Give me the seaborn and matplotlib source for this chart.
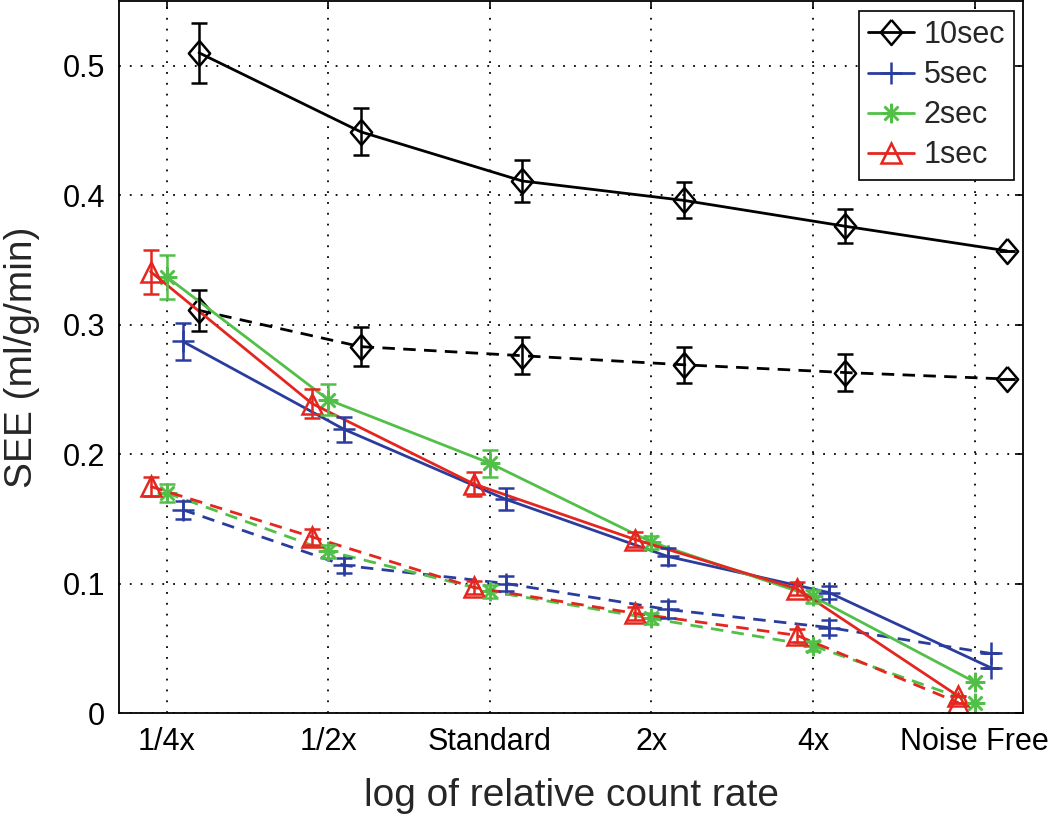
import numpy as np
import pandas as pd
import matplotlib
matplotlib.use("Agg")
import matplotlib.pyplot as plt
import seaborn as sns

# ---------------- data ----------------
categories = ['1/4x', '1/2x', 'Standard', '2x', '4x', 'Noise Free']
series_names = ['10sec', '5sec', '2sec', '1sec']

see_10s_solid = [0.510, 0.449, 0.411, 0.396, 0.376, 0.357]
err_10s_solid = [0.023, 0.018, 0.016, 0.014, 0.013, 0.0]
see_10s_dash = [0.311, 0.283, 0.276, 0.269, 0.263, 0.258]
err_10s_dash = [0.016, 0.015, 0.0145, 0.014, 0.014, 0.0]

see_5s_solid = [0.287, 0.219, 0.165, 0.121, 0.093, 0.035]
err_5s_solid = [0.014, 0.010, 0.0085, 0.0065, 0.005, 0.0]
see_5s_dash = [0.157, 0.114, 0.100, 0.080, 0.066, 0.046]
err_5s_dash = [0.007, 0.006, 0.006, 0.0065, 0.006, 0.0]

see_2s_solid = [0.337, 0.242, 0.193, 0.132, 0.090, 0.024]
err_2s_solid = [0.017, 0.012, 0.0105, 0.005, 0.005, 0.0]
see_2s_dash = [0.170, 0.125, 0.094, 0.073, 0.052, 0.008]
err_2s_dash = [0.007, 0.005, 0.005, 0.004, 0.004, 0.0]

see_1s_solid = [0.341, 0.239, 0.177, 0.134, 0.096, 0.013]
err_1s_solid = [0.017, 0.011, 0.009, 0.006, 0.005, 0.0]
see_1s_dash = [0.175, 0.136, 0.097, 0.077, 0.060, 0.008]
err_1s_dash = [0.007, 0.006, 0.005, 0.005, 0.005, 0.0]

y_ticks = [0, 0.1, 0.2, 0.3, 0.4, 0.5]
y_tick_labels = ['0', '0.1', '0.2', '0.3', '0.4', '0.5']

# ---------------- style ----------------
sns.set_style("white")
plt.rcParams['font.family'] = ['Liberation Sans', 'DejaVu Sans']

colors = {'10sec': '#000000', '5sec': '#2a3c9e', '2sec': '#52c048', '1sec': '#e4261f'}
offsets = {'10sec': 0.2, '5sec': 0.1, '2sec': 0.0, '1sec': -0.1}
diamond = [(0, 1), (0.85, 0), (0, -1), (-0.85, 0), (0, 1)]
markers = {'10sec': diamond, '5sec': '+', '2sec': (8, 2, 0), '1sec': '^'}
msizes = {'10sec': 18, '5sec': 16, '2sec': 14, '1sec': 15}

data = {
    '10sec': (see_10s_solid, err_10s_solid, see_10s_dash, err_10s_dash),
    '5sec': (see_5s_solid, err_5s_solid, see_5s_dash, err_5s_dash),
    '2sec': (see_2s_solid, err_2s_solid, see_2s_dash, err_2s_dash),
    '1sec': (see_1s_solid, err_1s_solid, see_1s_dash, err_1s_dash),
}

fig = plt.figure(figsize=(10.5, 8.21), dpi=100)
ax = fig.add_axes([119 / 1050, 108 / 821, 904 / 1050, 712 / 821])

base = np.arange(1, len(categories) + 1)
lw = 2.0
for name in series_names:
    s_vals, s_err, d_vals, d_err = data[name]
    x = base + offsets[name]
    c = colors[name]
    common = dict(color=c, marker=markers[name], markersize=msizes[name],
                  markerfacecolor='none', markeredgecolor=c, markeredgewidth=1.8,
                  linewidth=lw, ax=ax)
    df_s = pd.DataFrame({'x': x, 'y': s_vals})
    df_d = pd.DataFrame({'x': x, 'y': d_vals})
    sns.lineplot(data=df_s, x='x', y='y', label=name, linestyle='-', **common)
    sns.lineplot(data=df_d, x='x', y='y', label='_nolegend_', linestyle=(0, (4.5, 3)), **common)
    for vals, errs in ((s_vals, s_err), (d_vals, d_err)):
        ax.errorbar(x, vals, yerr=errs, fmt='none', ecolor=c, elinewidth=1.8,
                    capsize=6, capthick=1.8, zorder=3)

ax.set_xlim(0.705, 6.3)
ax.set_ylim(0, 0.55)
ax.set_xticks(base)
ax.set_xticklabels(categories)
ax.set_yticks(y_ticks)
ax.set_yticklabels(y_tick_labels)
ax.tick_params(axis='both', direction='in', top=True, right=True, length=6, width=1.2,
               labelsize=22, pad=10, colors='black')
ax.grid(True, color='black', linestyle=(0, (1, 5)), linewidth=1.3)
ax.set_axisbelow(True)
for sp in ax.spines.values():
    sp.set_visible(True)
    sp.set_color('black')
    sp.set_linewidth(1.3)

ax.set_xlabel('log of relative count rate', fontsize=28, labelpad=15)
ax.set_ylabel('SEE (ml/g/min)', fontsize=28, labelpad=16)

leg_handles, leg_labels = ax.get_legend_handles_labels()
leg = ax.legend(leg_handles, leg_labels, loc='upper right',
                bbox_to_anchor=(1014 / 1050, 810 / 821), bbox_transform=fig.transFigure,
                borderaxespad=0, fontsize=22, frameon=True, fancybox=False,
                edgecolor='black', framealpha=1, handlelength=1.5, handletextpad=0.3,
                labelspacing=0.33, borderpad=0.3)
leg.get_frame().set_linewidth(1.2)

fig.savefig('out.png', dpi=100)
